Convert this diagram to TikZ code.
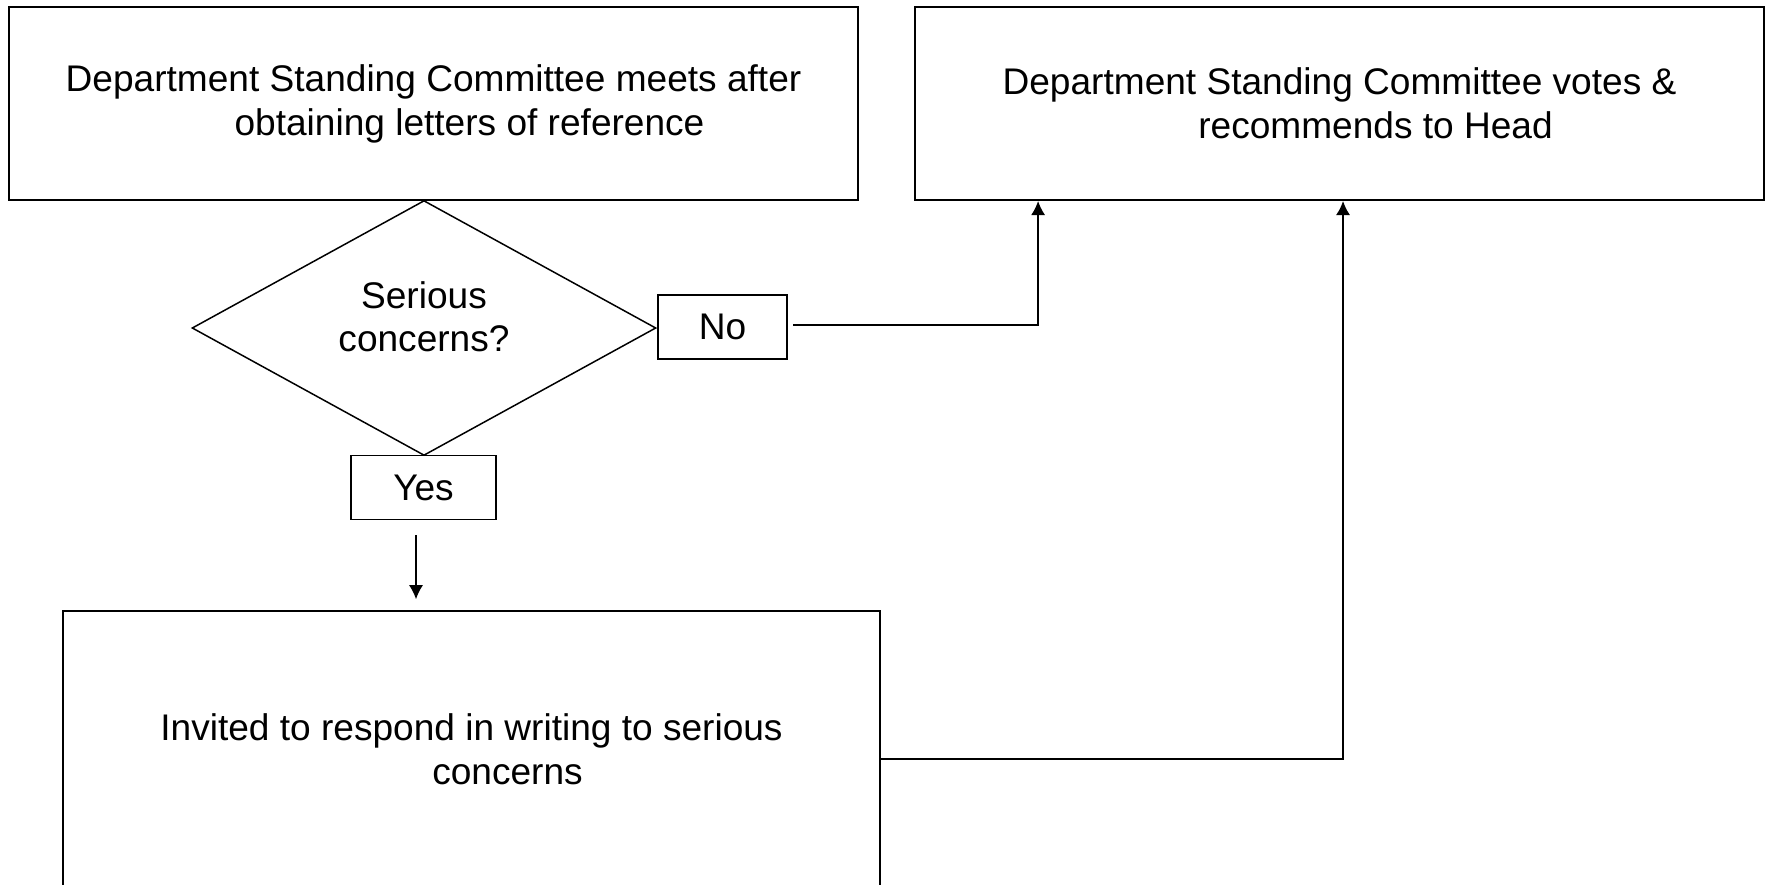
\documentclass[tikz,border=0pt]{standalone}
\usepackage{fontspec}
\setmainfont{Liberation Sans}
\usepackage{tikz}
\usetikzlibrary{calc}
\usetikzlibrary{arrows.meta,shapes.geometric}
\usetikzlibrary{positioning}

\begin{document}
\begin{tikzpicture}[x=0.02cm,y=-0.02cm,font=\fontsize{21.1}{25}\selectfont,
        stage/.style={draw,line width=1.1pt,align=center,inner sep=0pt},
        answer/.style={draw,line width=0.9pt,inner sep=0pt,minimum height=1.28cm},
        flow/.style={line width=1pt,-{Latex[length=8pt,width=8pt]}}]
        \clip (0,0) rectangle (1771,885);
        \node[stage,minimum width=16.98cm,minimum height=3.86cm] (meet) at (433.5,103.5)
          {Department Standing Committee meets after\\\hspace*{1.44cm}obtaining letters of reference};
        \node[stage,minimum width=16.98cm,minimum height=3.86cm] (vote) at (1339.5,103.5)
          {Department Standing Committee votes \&\\\hspace*{1.44cm}recommends to Head};
        \node[draw,diamond,line width=0.85pt,inner sep=-10pt,align=center,text depth=13pt,
          minimum width=9.28cm,minimum height=5.1cm] (concern) at (424,328) {Serious\\concerns?};
        \node[answer,minimum width=2.58cm] (no) at (722.5,327) {No};
        \node[answer,minimum width=2.9cm] (yes) at (423.5,487.5) {Yes};
        \node[stage,minimum width=16.34cm,minimum height=5.54cm] (invite) at (471.5,749.5)
          {Invited to respond in writing to serious\\\hspace*{1.44cm}concerns};
        \draw[flow] ([xshift=3pt,yshift=1pt]no.east) -| ([xshift=2.48cm]vote.south west);
        \draw[flow] ([xshift=-0.15cm,yshift=-0.3cm]yes.south) -- ++(0,64);
        \draw[flow] ([yshift=-0.19cm]invite.east) -| ([xshift=8.58cm]vote.south west);
\end{tikzpicture}
\end{document}
